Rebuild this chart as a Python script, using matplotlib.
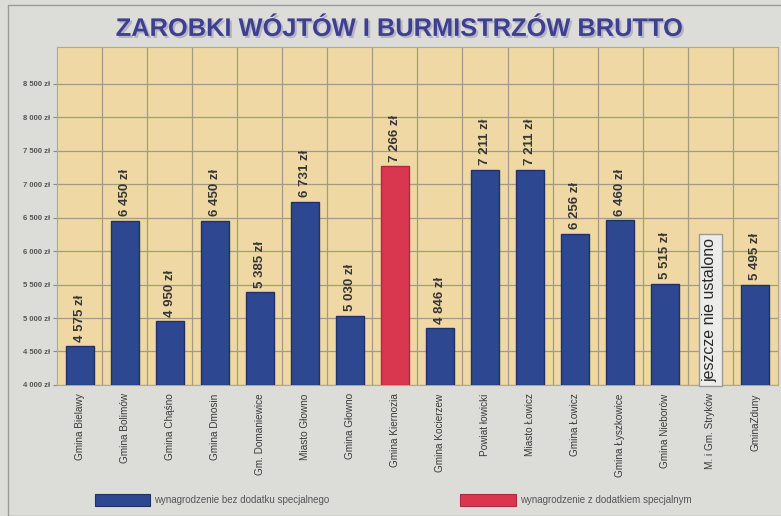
import matplotlib.pyplot as plt
import matplotlib.patheffects as pe
from matplotlib.patches import Rectangle

plt.rcParams['font.family'] = ['Liberation Sans', 'DejaVu Sans']

# chart data
gminy = ['Gmina Bielawy', 'Gmina Bolimów', 'Gmina Chąśno', 'Gmina Dmosin',
         'Gm. Domaniewice', 'Miasto Głowno', 'Gmina Głowno', 'Gmina Kiernozia',
         'Gmina Kocierzew', 'Powiat łowicki', 'Miasto Łowicz', 'Gmina Łowicz',
         'Gmina Łyszkowice', 'Gmina Nieborów', 'M. i Gm. Stryków', 'GminaZduny']
zarobki = [4575, 6450, 4950, 6450, 5385, 6731, 5030, 7266,
           4846, 7211, 7211, 6256, 6460, 5515, None, 5495]
z_dodatkiem = [False] * 7 + [True] + [False] * 8
yticks = [4000, 4500, 5000, 5500, 6000, 6500, 7000, 7500, 8000, 8500]
legend_labels = ['wynagrodzenie bez dodatku specjalnego',
                 'wynagrodzenie z dodatkiem specjalnym']
brak = 'jeszcze nie ustalono'

BLUE = '#2d4890'
RED = '#d9374f'
BG = '#dcdcd9'
TAN = '#efd8a3'

fig = plt.figure(figsize=(7.81, 5.16), dpi=100, facecolor=BG)
ax = fig.add_axes([0.073, 0.254, 0.923, 0.655])
ax.set_facecolor(TAN)

base = 4000
for i, (v, red) in enumerate(zip(zarobki, z_dodatkiem)):
    if v is None:
        ax.text(i, base + 40, brak, rotation=90, ha='center', va='bottom',
                fontsize=11.5, color='#2a2a2a',
                bbox=dict(boxstyle='square,pad=0.25', facecolor='#ececea',
                          edgecolor='#9a9a9a', linewidth=1))
        continue
    ax.bar(i, v - base, bottom=base, width=0.62,
           color=RED if red else BLUE,
           edgecolor='#b02a40' if red else '#1f3266', linewidth=1, zorder=3)
    lab = '{:,} zł'.format(v).replace(',', ' ')
    ax.text(i, v + 70, lab, rotation=90, ha='center', va='bottom',
            fontsize=9.5, fontweight='bold', color='#363636', zorder=4)

ax.set_xlim(-0.5, len(gminy) - 0.5)
ax.set_ylim(base, 9050)
ax.set_yticks(yticks)
ax.set_yticklabels(['{:,} zł'.format(t).replace(',', ' ') for t in yticks],
                   fontsize=5.5, fontweight='bold', color='#555555')
ax.set_xticks(range(len(gminy)))
ax.set_xticklabels(gminy, rotation=90, fontsize=7.2, color='#3a3a3a', va='top')
ax.tick_params(axis='x', length=0, pad=6)
ax.tick_params(axis='y', length=3, color='#888888', pad=2)

# grid
for t in yticks:
    ax.axhline(t, color='#a39a85', linewidth=0.9, zorder=1)
for k in range(len(gminy) - 1):
    ax.axvline(k + 0.5, color='#a39a85', linewidth=0.9, zorder=1)
for s in ax.spines.values():
    s.set_color('#b0a890')
    s.set_linewidth(0.8)

# title with light shadow
fig.text(0.511, 0.944, 'ZAROBKI WÓJTÓW I BURMISTRZÓW BRUTTO', ha='center',
         va='center', fontsize=18.3, fontweight='bold', color='#3e3f91',
         path_effects=[pe.withSimplePatchShadow(offset=(1.5, -1.5),
                                                shadow_rgbFace='#b4b4c4',
                                                alpha=1.0)])

# legend
fig.patches.append(Rectangle((95 / 781, 1 - 506 / 516), 55 / 781, 12 / 516,
                             transform=fig.transFigure, facecolor=BLUE,
                             edgecolor='#1f3266', linewidth=0.8))
fig.text(154 / 781, 1 - 500 / 516, legend_labels[0], fontsize=7,
         color='#555555', va='center')
fig.patches.append(Rectangle((460 / 781, 1 - 506 / 516), 56 / 781, 12 / 516,
                             transform=fig.transFigure, facecolor=RED,
                             edgecolor='#b02a40', linewidth=0.8))
fig.text(520 / 781, 1 - 500 / 516, legend_labels[1], fontsize=7,
         color='#555555', va='center')

# newspaper frame
fig.patches.append(Rectangle((8 / 781, 0), 1, 1 - 5 / 516,
                             transform=fig.transFigure, fill=False,
                             edgecolor='#9a9a9a', linewidth=1))

fig.savefig('out.png', dpi=100, facecolor=BG)
